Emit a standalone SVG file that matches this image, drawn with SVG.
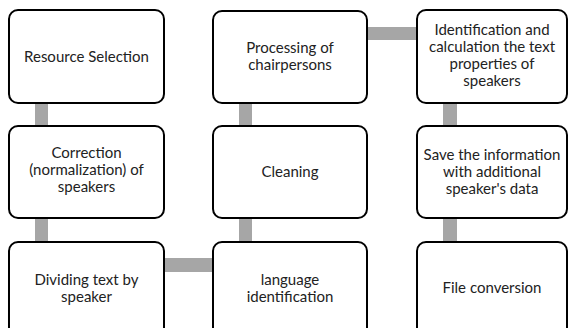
<svg xmlns="http://www.w3.org/2000/svg" width="569" height="328" viewBox="0 0 569 328">
<style>
.box{fill:#fff;stroke:#000;stroke-width:2}
.lbl{font-family:Lato,"Liberation Sans",Arial,sans-serif;font-size:15px;fill:#222;text-anchor:middle}
.conn{fill:#a6a6a6}
</style>
<rect width="569" height="328" fill="#fff"/>
<g id="connectors">
<rect class="conn" x="35" y="103" width="13" height="23"/>
<rect class="conn" x="35" y="218" width="13" height="24"/>
<rect class="conn" x="164" y="258" width="49" height="14"/>
<rect class="conn" x="239" y="218" width="13" height="24"/>
<rect class="conn" x="239" y="103" width="13" height="23"/>
<rect class="conn" x="367" y="27" width="50" height="13"/>
<rect class="conn" x="443" y="103" width="14" height="23"/>
<rect class="conn" x="443" y="218" width="14" height="24"/>
</g>
<g id="n1"><rect class="box" x="9" y="10" width="155" height="93" rx="9"/><text class="lbl" x="86.5" y="62">Resource Selection</text></g>
<g id="n2"><rect class="box" x="9" y="126" width="155" height="92" rx="9"/><text class="lbl" x="86.5" y="158">Correction</text><text class="lbl" x="86.5" y="175">(normalization) of</text><text class="lbl" x="86.5" y="192">speakers</text></g>
<g id="n3"><rect class="box" x="9" y="242" width="155" height="100" rx="9"/><text class="lbl" x="86.5" y="285">Dividing text by</text><text class="lbl" x="86.5" y="302">speaker</text></g>
<g id="n4"><rect class="box" x="213" y="242" width="154" height="100" rx="9"/><text class="lbl" x="290" y="285">language</text><text class="lbl" x="290" y="302">identification</text></g>
<g id="n5"><rect class="box" x="213" y="126" width="154" height="92" rx="9"/><text class="lbl" x="290" y="177">Cleaning</text></g>
<g id="n6"><rect class="box" x="213" y="11" width="154" height="92" rx="9"/><text class="lbl" x="290" y="53">Processing of</text><text class="lbl" x="290" y="70">chairpersons</text></g>
<g id="n7"><rect class="box" x="417" y="10" width="150" height="93" rx="9"/><text class="lbl" x="492" y="35">Identification and</text><text class="lbl" x="492" y="52">calculation the text</text><text class="lbl" x="492" y="69">properties of</text><text class="lbl" x="492" y="86">speakers</text></g>
<g id="n8"><rect class="box" x="417" y="126" width="150" height="92" rx="9"/><text class="lbl" x="492" y="160">Save the information</text><text class="lbl" x="492" y="177">with additional</text><text class="lbl" x="492" y="194">speaker's data</text></g>
<g id="n9"><rect class="box" x="417" y="242" width="150" height="100" rx="9"/><text class="lbl" x="492" y="293">File conversion</text></g>
</svg>
